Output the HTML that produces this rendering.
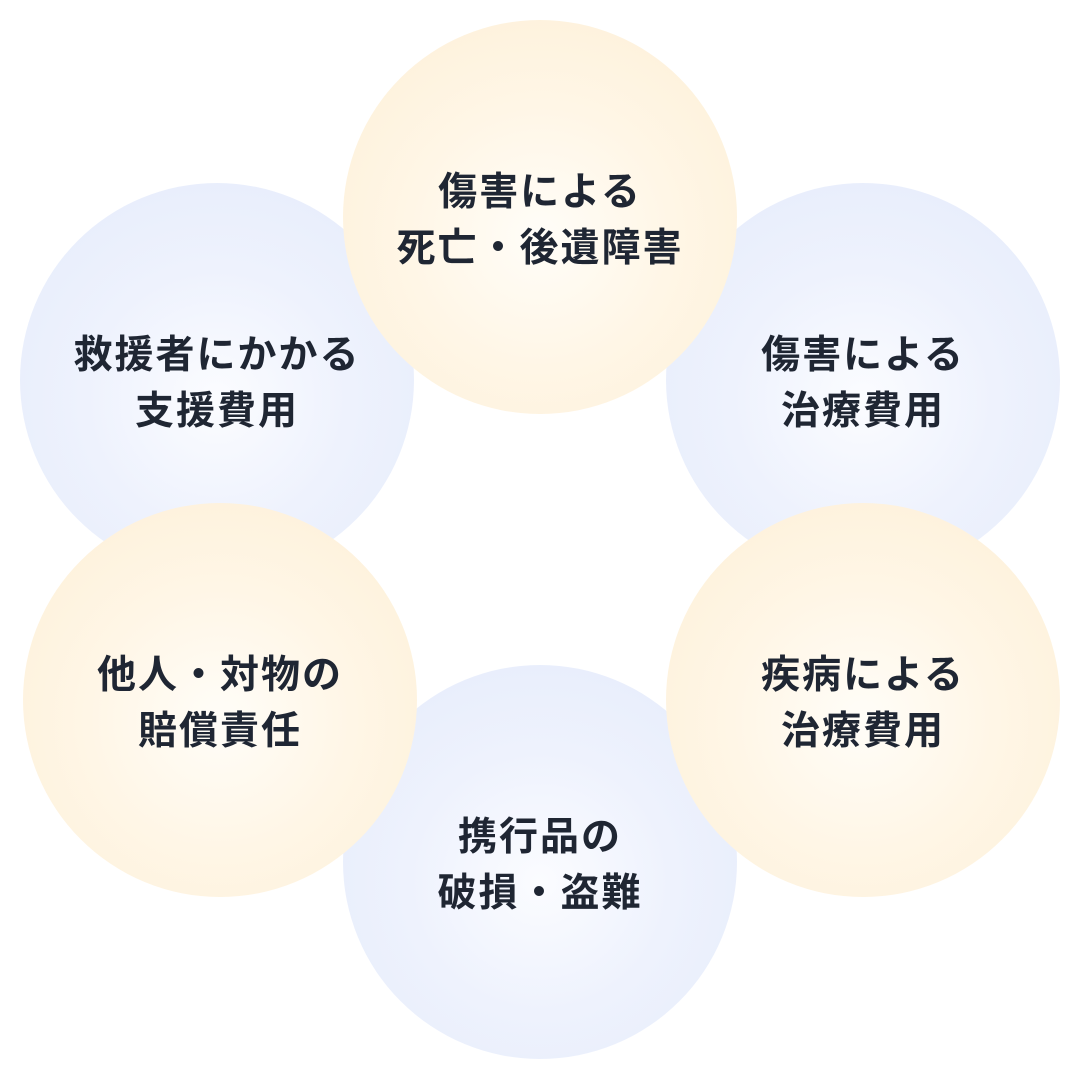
<!DOCTYPE html>
<html><head><meta charset="utf-8"><style>
body{margin:0;width:1080px;height:1080px;background:#fff;position:relative;overflow:hidden;font-family:"Liberation Sans","Noto Sans CJK JP",sans-serif;}
.c{position:absolute;width:394px;height:394px;border-radius:50%;display:flex;align-items:center;justify-content:center;text-align:center;font-weight:700;font-size:39px;line-height:56px;color:#1f2633;letter-spacing:2px}
.c div{margin-top:8px}
.b{background:radial-gradient(circle at 50% 55%,#fbfcff 0%,#eef2fd 45%,#e4ebfb 100%)}
.o{background:radial-gradient(circle at 50% 55%,#fffdf8 0%,#fff6e6 45%,#fdefd6 100%)}
</style></head><body>
<div class="c b" style="left:20px;top:183px"><div>救援者にかかる<br>支援費用</div></div>
<div class="c b" style="left:666px;top:183px"><div>傷害による<br>治療費用</div></div>
<div class="c b" style="left:343px;top:665px"><div>携行品の<br>破損・盗難</div></div>
<div class="c o" style="left:343px;top:20px"><div>傷害による<br>死亡・後遺障害</div></div>
<div class="c o" style="left:23px;top:503px"><div>他人・対物の<br>賠償責任</div></div>
<div class="c o" style="left:666px;top:503px"><div>疾病による<br>治療費用</div></div>
</body></html>
